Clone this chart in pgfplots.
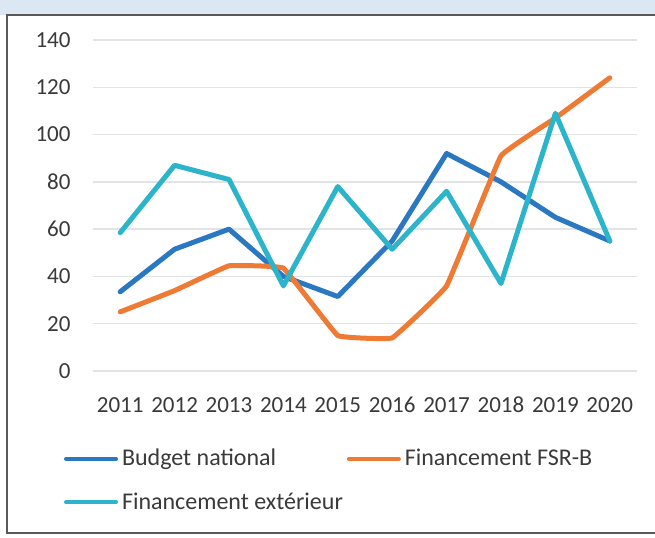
\documentclass[border=0pt]{standalone}
\usepackage{pgfplots}
\pgfplotsset{compat=1.18}
\usepackage{fontspec}
\setmainfont{Carlito}
\definecolor{cblue}{HTML}{2A78C2}
\definecolor{corange}{HTML}{EE7A34}
\definecolor{ccyan}{HTML}{2CB4CB}
\definecolor{ctext}{HTML}{3A3A3A}
\definecolor{cgrid}{HTML}{E2E3E6}
\definecolor{cstrip}{HTML}{DCE7F4}
\begin{document}
\begin{tikzpicture}
\clip (0pt,0pt) rectangle (327.5pt,268.5pt);
\useasboundingbox (0pt,0pt) rectangle (327.5pt,268.5pt);
\fill[white] (0pt,0pt) rectangle (327.5pt,268.5pt);
\fill[cstrip] (0pt,261pt) rectangle (327.5pt,268.5pt);
\draw[gray!70!black, line width=0.8pt] (340pt,261pt) -- (3.5pt,261pt) -- (3.5pt,2pt) -- (340pt,2pt);
\begin{axis}[
  at={(46.5pt,83pt)}, anchor=south west,
  scale only axis, width=272pt, height=165.5pt,
  xmin=2010.5, xmax=2020.5, ymin=0, ymax=140,
  xtick={2011,...,2020}, ytick={0,20,...,140},
  xticklabel={\pgfmathprintnumber[1000 sep={}]{\tick}},
  axis line style={draw=none}, tick style={draw=none},
  ymajorgrids, grid style={cgrid, line width=0.7pt},
  ticklabel style={font=\fontsize{11.5}{13}\selectfont, text=ctext},
  /pgf/number format/assume math mode=true,
  yticklabel style={xshift=-7.7pt},
  xticklabel style={yshift=-9.5pt, text height=7.5pt, text depth=0pt},
  legend style={at={(-0.054,-0.222)}, anchor=north west, draw=none, fill=none,
    inner sep=0pt, font=\fontsize{12}{14}\selectfont, text=ctext,
    legend columns=2, row sep=8pt,
    /tikz/every odd column/.append style={column sep=0pt},
    /tikz/every even column/.append style={column sep=0pt}},
  legend cell align=left,
  legend image code/.code={\draw[#1, line width=2pt, line cap=round] (0pt,0pt) -- (25pt,0pt);},
  every axis plot/.append style={line width=2.5pt, line join=round, line cap=round},
]
\addplot[cblue] coordinates {(2011,33.5) (2012,51.5) (2013,60) (2014,40) (2015,31.5) (2016,55) (2017,92) (2018,80) (2019,65) (2020,55)};
\addlegendentry{Budget national}
\addplot[corange, smooth, tension=0.12] coordinates {(2011,25) (2012,34) (2013,44.5) (2014,43.5) (2015,15) (2016,14) (2017,36) (2018,91) (2019,107) (2020,124)};
\addlegendentry{Financement FSR-B}
\addplot[ccyan] coordinates {(2011,58.5) (2012,87) (2013,81) (2014,36) (2015,78) (2016,51.5) (2017,76) (2018,37) (2019,109) (2020,55)};
\addlegendentry{Financement extérieur}
\end{axis}
\end{tikzpicture}
\end{document}
